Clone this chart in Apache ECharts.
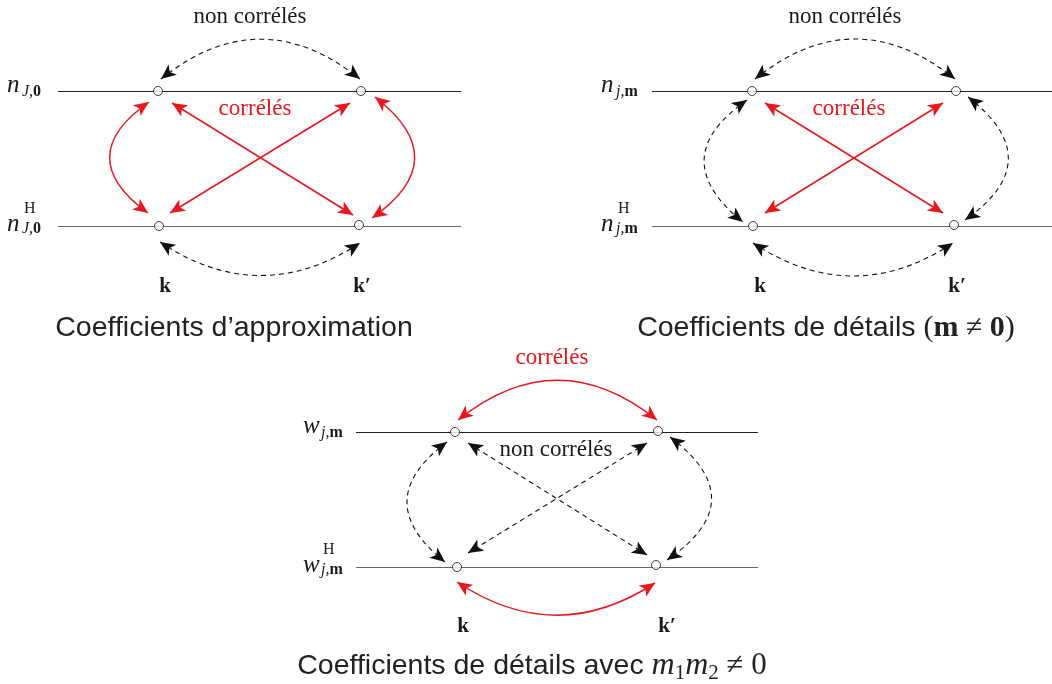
<!DOCTYPE html>
<html>
<head>
<meta charset="utf-8">
<script src="https://cdn.jsdelivr.net/npm/echarts@6/dist/echarts.min.js"></script>
<style>
  html, body { margin: 0; background: #fff; }
  #main { width: 1052px; height: 684px; }
</style>
</head>
<body>
<div id="main"></div>
<script>
// coefficient positions (k, k') on both levels, for the three diagrams
var nodes = [
  [158, 91], [361, 91], [159, 226], [359, 225],
  [752, 91], [956, 91], [753, 226], [954, 225],
  [455, 432], [658, 431], [457, 567], [656, 565]
];
// horizontal levels [x start, x end, y]
var topLevels = [[58, 461, 91], [652, 1052, 91], [356, 758, 432]];
var bottomLevels = [[58, 461, 226], [652, 1052, 226], [356, 758, 567]];

// links: [from, to, curveness]
var redLinks = [
  [[149, 102], [148, 213], -0.70],
  [[375, 97], [372, 218], 0.68],
  [[172, 103], [353, 215], 0],
  [[350, 103], [170, 213], 0],
  [[765, 103], [943, 213], 0],
  [[943, 103], [765, 213], 0],
  [[458, 420], [657, 420], 0.40],
  [[457, 582], [655, 583], -0.33]
];
var dashLinks = [
  [[161, 79], [360, 79], 0.40],
  [[160, 242], [360, 243], -0.33],
  [[755, 79], [955, 79], 0.40],
  [[753, 243], [953, 243], -0.33],
  [[747, 100], [743, 222], -0.67],
  [[968, 97], [965, 220], 0.68],
  [[447, 442], [445, 562], -0.65],
  [[670, 437], [667, 560], 0.70],
  [[468, 443], [647, 555], 0],
  [[647, 443], [468, 553], 0]
];

var RED = '#e8161e';
var INK = '#1a1a1a';
var SERIF = '"Liberation Serif", "DejaVu Serif", serif';
var SANS = '"Liberation Sans", Arial, sans-serif';

function toLines(list) {
  return list.map(function (l) {
    return { coords: [l[0], l[1]], lineStyle: { curveness: l[2] } };
  });
}
function toLevels(list) {
  return list.map(function (l) {
    return { coords: [[l[0], l[2]], [l[1], l[2]]] };
  });
}

// text made of pieces: [text, fontStyle, size, baselineShift, family]
var ctx = document.createElement('canvas').getContext('2d');
function textRow(x, baseline, parts, align, color) {
  var fonts = parts.map(function (p) { return p[1] + ' ' + p[2] + 'px ' + (p[4] || SERIF); });
  var widths = parts.map(function (p, i) {
    ctx.font = fonts[i];
    return ctx.measureText(p[0]).width;
  });
  var total = widths.reduce(function (a, b) { return a + b; }, 0);
  var cx = align === 'center' ? x - total / 2 : (align === 'right' ? x - total : x);
  var out = [];
  parts.forEach(function (p, i) {
    out.push({
      type: 'text',
      x: cx,
      y: baseline + p[3] - 0.3 * p[2],
      silent: true,
      style: {
        text: p[0], font: fonts[i], fill: color || INK,
        textAlign: 'left', textVerticalAlign: 'middle',
        align: 'left', verticalAlign: 'middle'
      }
    });
    cx += widths[i];
  });
  return out;
}

var graphics = [];
function add(arr) { graphics = graphics.concat(arr); }

// level labels: symbol, subscript, superscript placed separately
function levelLabel(x, base, sym, subA, subB, subX, sup) {
  add(textRow(x, base, [[sym, 'italic', 25, 0]], 'left'));
  add(textRow(subX, base + (sup ? 2 : 4), [[subA, 'italic', 16, 0], [subB, 'bold', 16, 0]], 'left'));
  if (sup) add(textRow(subX + 2, base - 18, [['H', 'normal', 16, 0]], 'left'));
}
levelLabel(7, 93, 'n', 'J,', '0', 22, false);
levelLabel(7, 232, 'n', 'J,', '0', 22, true);
levelLabel(601, 93, 'n', 'j,', 'm', 616, false);
levelLabel(601, 232, 'n', 'j,', 'm', 616, true);
levelLabel(303, 434, 'w', 'j,', 'm', 321, false);
levelLabel(303, 573, 'w', 'j,', 'm', 321, true);

// relation labels
add(textRow(250, 24, [['non corrélés', 'normal', 23, 0]], 'center'));
add(textRow(255, 116, [['corrélés', 'normal', 23, 0]], 'center', RED));
add(textRow(845, 24, [['non corrélés', 'normal', 23, 0]], 'center'));
add(textRow(849, 116, [['corrélés', 'normal', 23, 0]], 'center', RED));
add(textRow(552, 365, [['corrélés', 'normal', 23, 0]], 'center', RED));
add(textRow(556, 457, [['non corrélés', 'normal', 23, 0]], 'center'));

// k, k'
add(textRow(165, 293, [['k', 'bold', 21, 0]], 'center'));
add(textRow(362, 293, [['k′', 'bold', 21, 0]], 'center'));
add(textRow(760, 293, [['k', 'bold', 21, 0]], 'center'));
add(textRow(957, 293, [['k′', 'bold', 21, 0]], 'center'));
add(textRow(463, 633, [['k', 'bold', 21, 0]], 'center'));
add(textRow(667, 633, [['k′', 'bold', 21, 0]], 'center'));

// captions
add(textRow(234, 337, [['Coefficients d’approximation', 'normal', 28.5, 0, SANS]], 'center', '#222'));
add(textRow(826, 337, [
  ['Coefficients de détails ', 'normal', 28.5, 0, SANS],
  ['(', 'normal', 30, 0], ['m', 'bold', 30, 0], [' ≠ ', 'normal', 30, 0],
  ['0', 'bold', 30, 0], [')', 'normal', 30, 0]
], 'center', '#222'));
add(textRow(532, 675, [
  ['Coefficients de détails avec ', 'normal', 28.5, 0, SANS],
  ['m', 'italic', 32, 0], ['1', 'normal', 21, 5], ['m', 'italic', 32, 0],
  ['2', 'normal', 21, 5], [' ≠ 0', 'normal', 31, 0]
], 'center', '#222'));

var chart = echarts.init(document.getElementById('main'));
chart.setOption({
  backgroundColor: '#fff',
  animation: false,
  grid: { left: 0, right: 0, top: 0, bottom: 0 },
  xAxis: { type: 'value', min: 0, max: 1052, show: false },
  yAxis: { type: 'value', min: 0, max: 684, inverse: true, show: false },
  graphic: graphics,
  series: [
    {
      type: 'lines', coordinateSystem: 'cartesian2d', symbol: 'none', silent: true,
      lineStyle: { color: '#222', width: 1.2, opacity: 1 },
      data: toLevels(topLevels)
    },
    {
      type: 'lines', coordinateSystem: 'cartesian2d', symbol: 'none', silent: true,
      lineStyle: { color: '#666', width: 1.2, opacity: 1 },
      data: toLevels(bottomLevels)
    },
    {
      type: 'lines', coordinateSystem: 'cartesian2d', silent: true,
      symbol: ['arrow', 'arrow'], symbolSize: [[10, 15], [10, 15]],
      lineStyle: { color: RED, width: 1.5, opacity: 1 },
      data: toLines(redLinks)
    },
    {
      type: 'lines', coordinateSystem: 'cartesian2d', silent: true,
      symbol: ['arrow', 'arrow'], symbolSize: [[10, 15], [10, 15]],
      lineStyle: { color: '#111', width: 1.1, opacity: 1, type: [5, 4] },
      data: toLines(dashLinks)
    },
    {
      type: 'scatter', silent: true, z: 5,
      symbol: 'circle', symbolSize: 9,
      itemStyle: { color: '#fff', borderColor: '#111', borderWidth: 1 },
      data: nodes
    }
  ]
});
</script>
</body>
</html>
